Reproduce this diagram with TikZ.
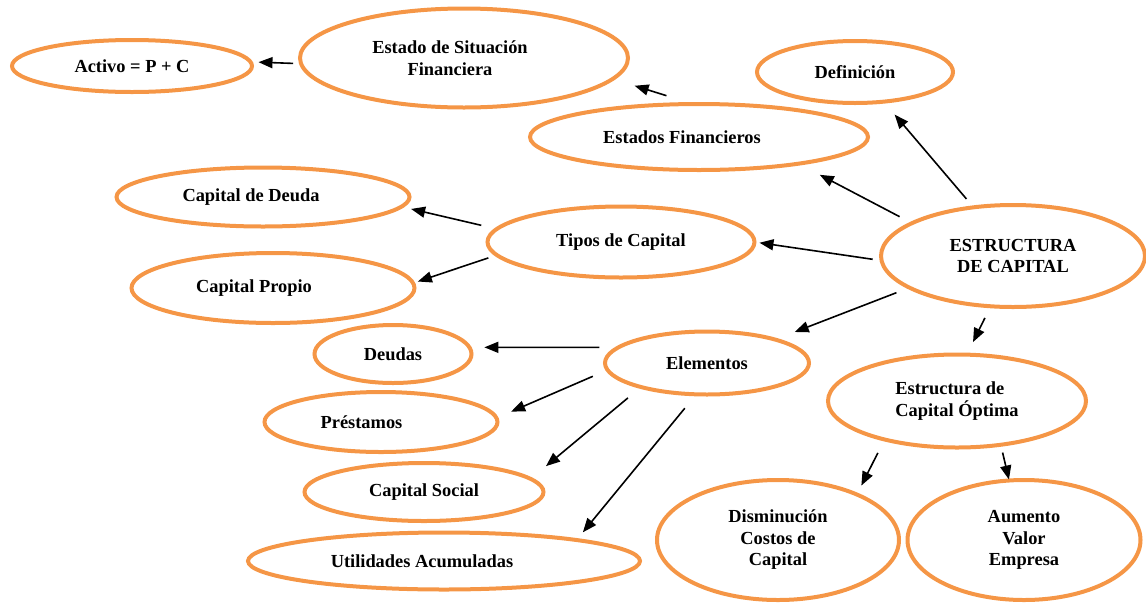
\documentclass[tikz,border=0pt]{standalone}
\usepackage{fontspec}
\setmainfont{Liberation Serif}
\usetikzlibrary{shapes.geometric,arrows.meta}
\definecolor{naranja}{RGB}{245,150,70}

\begin{document}
\begin{tikzpicture}[x=1pt,y=-1pt,
  elip/.style={ellipse,draw=naranja,line width=4pt,inner sep=0pt,outer sep=0pt,
    align=center,font=\fontsize{18.4}{21.5}\selectfont\bfseries},
  flecha/.style={-{Triangle[length=14pt,width=11pt]},line width=1.6pt}]
\useasboundingbox (0,0) rectangle (1146,603);

\node[elip,minimum width=240pt,minimum height=52pt] (Activo) at (132,66) {Activo = P + C};
\node[elip,minimum width=328pt,minimum height=99pt] (Situacion) at (464,58)
     {Estado de Situación\hspace*{28pt}\\Financiera\hspace*{28pt}};
\node[elip,minimum width=196pt,minimum height=62pt] (Definicion) at (855,72) {Definición};
\node[elip,minimum width=338pt,minimum height=66pt] (EstFin) at (699,137)
     {Estados Financieros\hspace*{34pt}};
\node[elip,minimum width=264pt,minimum height=102pt] (Estructura) at (1013,256)
     {ESTRUCTURA\\DE CAPITAL};
\node[elip,minimum width=267pt,minimum height=71pt] (Tipos) at (621,242) {Tipos de Capital};
\node[elip,minimum width=293pt,minimum height=59pt] (CapDeuda) at (263,197)
     {Capital de Deuda\hspace*{24pt}};
\node[elip,minimum width=283pt,minimum height=70pt] (CapPropio) at (273,288)
     {Capital Propio\hspace*{38pt}};
\node[elip,minimum width=204pt,minimum height=63pt] (Elementos) at (707,363) {Elementos};
\node[elip,minimum width=258pt,minimum height=93pt,align=left] (Optima) at (957,401)
     {Estructura de\\Capital Óptima};
\node[elip,minimum width=157pt,minimum height=58pt] (Deudas) at (393,354) {Deudas};
\node[elip,minimum width=233pt,minimum height=60pt] (Prestamos) at (381,422)
     {Préstamos\hspace*{39pt}};
\node[elip,minimum width=239pt,minimum height=58pt] (CapSocial) at (424,492) {Capital Social};
\node[elip,minimum width=392pt,minimum height=57pt] (Utilidades) at (444,561)
     {Utilidades Acumuladas\hspace*{44pt}};
\node[elip,minimum width=242pt,minimum height=120pt] (Disminucion) at (778,540)
     {Disminución\\Costos de\\Capital};
\node[elip,minimum width=233pt,minimum height=120pt] (Aumento) at (1024,540)
     {Aumento\\Valor\\Empresa};

\path[flecha] (Situacion.182) edge [shorten <=8pt,shorten >=8pt] (Activo.2);
\path[flecha] (EstFin.100) edge [shorten <=28pt,shorten >=23pt] (Situacion.-8);
\path[flecha] (Estructura.129) edge [shorten <=11pt,shorten >=17pt] (Definicion.-46);
\path[flecha] (Estructura.162) edge [shorten <=14pt,shorten >=24pt] (EstFin.-15);
\path[flecha] (Estructura.182) edge [shorten <=9pt,shorten >=5pt] (Tipos.0);
\path[flecha] (Estructura.197) edge [shorten <=14pt,shorten >=21pt] (Elementos.19);
\path[flecha] (Estructura.246) edge [shorten <=13pt,shorten >=14pt] (Optima.78);
\path[flecha] (Tipos.174) edge [shorten <=16pt,shorten >=10pt] (CapDeuda.-4);
\path[flecha] (Tipos.186) edge [shorten <=9pt,shorten >=5pt] (CapPropio.2);
\path[flecha] (Elementos.170) edge [shorten <=19pt,shorten >=15pt] (Deudas.5);
\path[flecha] (Elementos.184) edge [shorten <=16pt,shorten >=16pt] (Prestamos.2);
\path[flecha] (Elementos.200) edge [shorten <=17pt,shorten >=20pt] (CapSocial.7);
\path[flecha] (Elementos.251) edge [shorten <=18pt,shorten >=10pt] (Utilidades.9);
\path[flecha] (Optima.208) edge [shorten <=15pt,shorten >=10pt] (Disminucion.30);
\path[flecha] (Optima.-45) edge [shorten <=8pt,shorten >=1pt] (Aumento.104);
\end{tikzpicture}
\end{document}
